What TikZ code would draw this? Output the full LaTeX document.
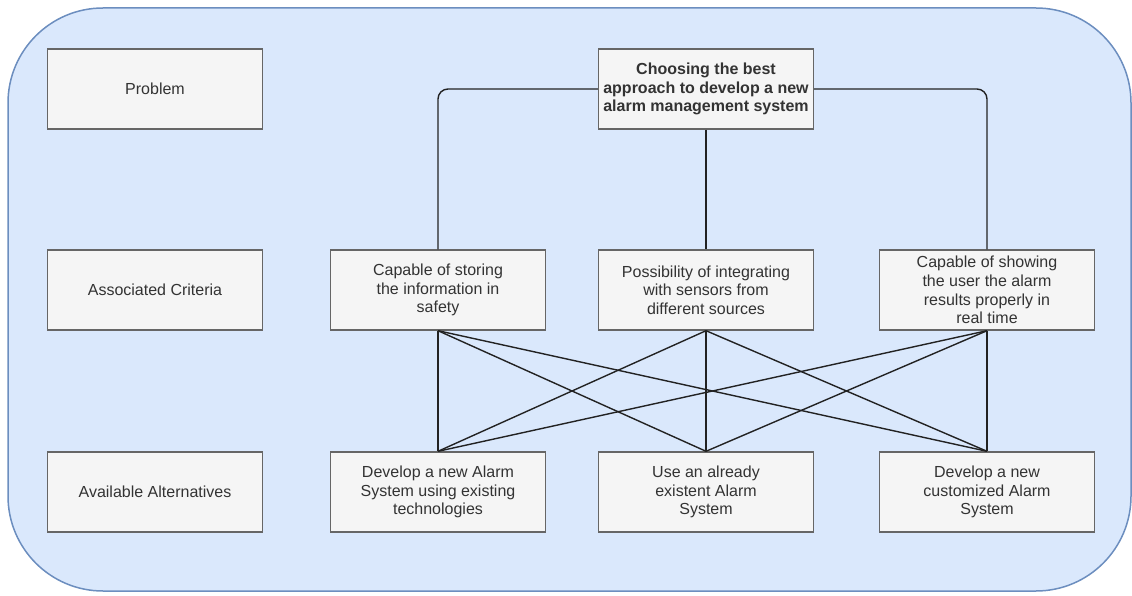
\documentclass[tikz,border=0pt]{standalone}
\usepackage{fontspec}
\setmainfont{Liberation Sans}
\definecolor{outerfill}{HTML}{DAE8FC}
\definecolor{outerline}{HTML}{6C8EBF}
\definecolor{boxfill}{HTML}{F5F5F5}
\definecolor{boxline}{HTML}{666666}
\definecolor{boxtext}{HTML}{333333}
\definecolor{linkcol}{HTML}{222222}
\begin{document}
\begin{tikzpicture}[x=1pt,y=-1pt,
  box/.style={draw=boxline, fill=boxfill, line width=1.4pt,
    minimum width=215pt, minimum height=80pt, inner sep=0pt,
    align=center, text=boxtext, font=\fontsize{16}{18.6}\selectfont},
  link/.style={draw=linkcol, line width=1.4pt}]
\useasboundingbox (0,0) rectangle (1132,596);

% background container
\draw[draw=outerline, fill=outerfill, line width=1.5pt, rounded corners=95pt]
  (8,8) rectangle (1131,591);

% row labels
\node[box] (problem)  at (155,89)  {Problem};
\node[box] (criteria) at (155,290) {Associated Criteria};
\node[box] (alts)     at (155,492) {Available Alternatives};

% goal
\node[box, font=\bfseries\fontsize{16}{18.6}\selectfont] (goal) at (706,89)
  {Choosing the best\\approach to develop a new\\alarm management system};

% criteria
\node[box] (c1) at (438,290) {Capable of storing\\the information in\\safety};
\node[box] (c2) at (706,290) {Possibility of integrating\\with sensors from\\different sources};
\node[box] (c3) at (987,290) {Capable of showing\\the user the alarm\\results properly in\\real time};

% alternatives
\node[box] (a1) at (438,492) {Develop a new Alarm\\System using existing\\technologies};
\node[box] (a2) at (706,492) {Use an already\\existent Alarm\\System};
\node[box] (a3) at (987,492) {Develop a new\\customized Alarm\\System};

% goal to criteria
\draw[link, rounded corners=10pt] (goal.west) -| (c1.north);
\draw[link] (goal.south) -- (c2.north);
\draw[link, rounded corners=10pt] (goal.east) -| (c3.north);

% criteria to alternatives
\foreach \c in {c1,c2,c3}
  \foreach \a in {a1,a2,a3}
    \draw[link] (\c.south) -- (\a.north);
\end{tikzpicture}
\end{document}
